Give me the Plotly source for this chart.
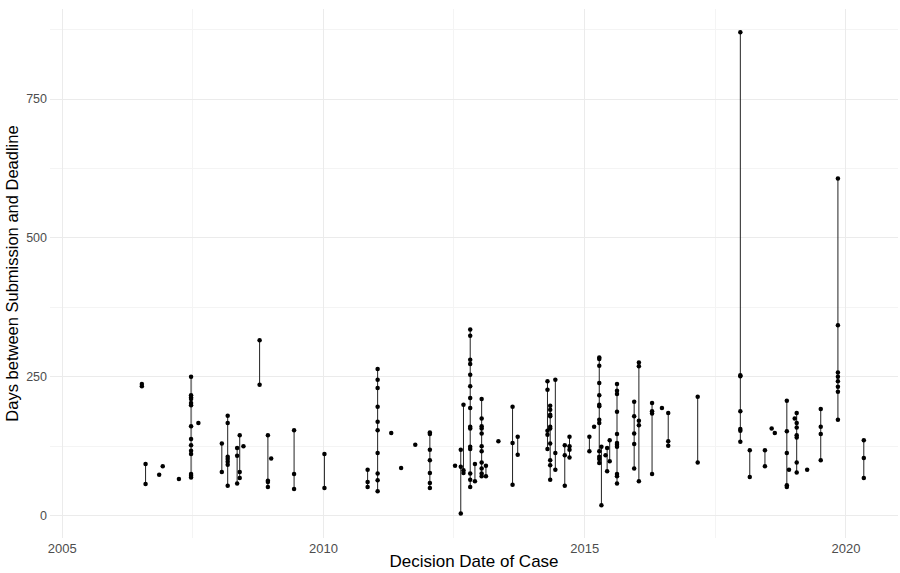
import pandas as pd
import plotly.graph_objects as go

decision_dates = [
    "2006-07-12", "2006-08-07", "2006-11-10", "2006-12-05", "2007-03-28",
    "2007-06-21", "2007-08-11", "2008-01-22", "2008-03-03", "2008-05-08",
    "2008-05-26", "2008-06-21", "2008-10-12", "2008-12-09", "2009-01-01",
    "2009-06-10", "2010-01-08", "2010-11-06", "2011-01-15", "2011-04-20",
    "2011-06-28", "2011-10-05", "2012-01-15", "2012-07-09", "2012-08-18",
    "2012-09-06", "2012-10-23", "2012-11-25", "2013-01-11", "2013-02-10",
    "2013-05-08", "2013-08-15", "2013-09-20", "2014-04-16", "2014-05-05",
    "2014-06-10", "2014-08-15", "2014-09-17", "2015-02-03", "2015-03-08",
    "2015-04-13", "2015-04-28", "2015-05-27", "2015-06-07", "2015-06-25",
    "2015-08-15", "2015-12-13", "2016-01-15", "2016-04-16", "2016-06-24",
    "2016-08-07", "2017-03-01", "2017-12-24", "2018-02-28", "2018-06-14",
    "2018-07-31", "2018-08-22", "2018-11-14", "2018-11-29", "2019-01-08",
    "2019-01-22", "2019-04-05", "2019-07-09", "2019-11-06", "2020-05-05",
]

days_per_case = [
    [233, 237], [93, 57], [74], [89], [66],
    [250, 217, 213, 210, 203, 199, 161, 138, 127, 117, 111, 75, 72, 69],
    [167], [130, 79], [180, 167, 106, 102, 97, 92, 54], [122, 108, 58],
    [145, 79, 68], [125], [316, 236], [145, 63, 61, 52], [103],
    [154, 75, 48], [111, 50], [83, 61, 52],
    [264, 245, 230, 196, 169, 154, 113, 76, 64, 44], [149],
    [86], [128], [150, 147, 119, 100, 77, 59, 50], [90], [119, 88, 4],
    [200, 82, 77],
    [335, 324, 281, 273, 254, 233, 212, 194, 160, 157, 124, 120, 76, 65, 52],
    [93, 62], [210, 175, 161, 157, 148, 125, 116, 96, 85, 76, 71], [90, 71],
    [134], [196, 131, 56], [142, 110], [242, 227, 153, 146, 120],
    [198, 191, 182, 179, 160, 157, 130, 100, 91, 65],
    [245, 113, 83], [127, 109, 54], [142, 125, 119, 105], [142, 116], [160],
    [285, 282, 270, 239, 217, 200, 197, 173, 167, 116, 106, 102, 95],
    [124, 19], [109], [122, 80], [136, 98],
    [237, 225, 219, 187, 147, 131, 128, 124, 75, 71, 58],
    [205, 179, 148, 129, 85], [276, 269, 171, 163, 62], [203, 188, 184, 75],
    [194], [185, 134, 126], [214, 96], [870, 253, 251, 188, 156, 153, 133],
    [118, 70], [118, 89], [157], [149], [207, 152, 113, 55, 52], [83], [175],
    [185, 167, 159, 145, 141, 96, 78], [83], [192, 160, 147, 100],
    [607, 343, 258, 250, 242, 232, 223, 173], [136, 104, 68],
]

rows = [(d, v) for d, vals in zip(decision_dates, days_per_case) for v in vals]
df = pd.DataFrame(rows, columns=["date", "days"])
df["date"] = pd.to_datetime(df["date"])
rng = df.groupby("date")["days"].agg(["min", "max"]).reset_index()

lx, ly = [], []
for _, r in rng.iterrows():
    if r["max"] > r["min"]:
        lx += [r["date"], r["date"], None]
        ly += [r["min"], r["max"], None]

fig = go.Figure()
fig.add_trace(go.Scatter(x=lx, y=ly, mode="lines",
                         line=dict(color="#222222", width=1),
                         hoverinfo="skip", showlegend=False))
fig.add_trace(go.Scatter(x=df["date"], y=df["days"], mode="markers",
                         marker=dict(color="black", size=4.5),
                         showlegend=False))

fam = "Liberation Sans, Arial, sans-serif"
fig.update_layout(
    width=900, height=573,
    margin=dict(l=50, r=2, t=9, b=35),
    paper_bgcolor="white", plot_bgcolor="white",
    showlegend=False,
    xaxis=dict(
        type="date",
        range=["2004-10-08", "2020-12-30"],
        tick0="2005-01-01", dtick="M60", tickformat="%Y",
        showgrid=True, gridcolor="#EBEBEB", gridwidth=1,
        minor=dict(dtick="M30", showgrid=True, gridcolor="#F4F4F4", gridwidth=1),
        zeroline=False, showline=False, ticks="",
        tickfont=dict(family=fam, size=13, color="#4D4D4D"), ticklabelstandoff=1,
        title=dict(text="Decision Date of Case", font=dict(family=fam, size=17, color="black"), standoff=0),
        automargin=False,
    ),
    yaxis=dict(
        range=[-40, 912],
        tickvals=[0, 250, 500, 750],
        showgrid=True, gridcolor="#EBEBEB", gridwidth=1,
        minor=dict(dtick=125, tick0=0, showgrid=True, gridcolor="#F4F4F4", gridwidth=1),
        zeroline=False, showline=False, ticks="",
        tickfont=dict(family=fam, size=12.5, color="#4D4D4D"), ticklabelstandoff=2,
        title=dict(text="Days between Submission and Deadline", font=dict(family=fam, size=16.5, color="black"), standoff=3),
        automargin=False,
    ),
)

fig.write_html("out.html")
